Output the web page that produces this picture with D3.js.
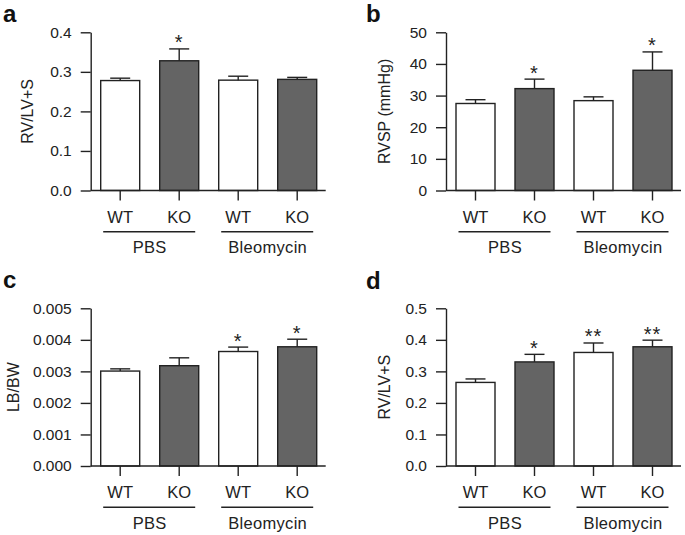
<!DOCTYPE html>
<html>
<head>
<meta charset="utf-8">
<script src="https://cdn.jsdelivr.net/npm/d3@7"></script>
<style>
  html, body { margin: 0; padding: 0; background: #fff; }
  svg { display: block; font-family: "Liberation Sans", Arial, Helvetica, sans-serif; }
</style>
</head>
<body>
<svg id="chart" width="685" height="535"></svg>
<script>
// ---------- data ----------
const categories = ["WT", "KO", "WT", "KO"];
const groups = ["PBS", "Bleomycin"];
const genotypeFill = ["white", "ko", "white", "ko"];

const panelLetters = ["a", "b", "c", "d"];
const yLabels = ["RV/LV+S", "RVSP (mmHg)", "LB/BW", "RV/LV+S"];

const valuesA = [0.278, 0.328, 0.279, 0.281];
const errorsA = [0.006, 0.030, 0.010, 0.005];
const starsA = ["", "*", "", ""];
const ticksA = [0, 0.1, 0.2, 0.3, 0.4];

const valuesB = [27.5, 32.2, 28.4, 38.0];
const errorsB = [1.2, 3.0, 1.2, 5.8];
const starsB = ["", "*", "", "*"];
const ticksB = [0, 10, 20, 30, 40, 50];

const valuesC = [0.00301, 0.00318, 0.00363, 0.00378];
const errorsC = [0.00007, 0.00025, 0.00014, 0.00024];
const starsC = ["", "", "*", "*"];
const ticksC = [0, 0.001, 0.002, 0.003, 0.004, 0.005];

const valuesD = [0.265, 0.330, 0.360, 0.378];
const errorsD = [0.011, 0.024, 0.030, 0.021];
const starsD = ["", "*", "**", "**"];
const ticksD = [0, 0.1, 0.2, 0.3, 0.4, 0.5];

const tickFormats = [".1f", "d", ".3f", ".1f"];

// ---------- layout ----------
const layout = [
  { ox: 90.7, top: 32.3, base: 190.5, letterX: 3,   letterY: 22, labelX: 27 },
  { ox: 446,  top: 32.3, base: 190.5, letterX: 366, letterY: 22, labelX: 384 },
  { ox: 90.7, top: 308.3, base: 466,  letterX: 3,   letterY: 288, labelX: 13 },
  { ox: 446,  top: 308.3, base: 466,  letterX: 366, letterY: 289, labelX: 384 }
];

const panelData = [
  { values: valuesA, errors: errorsA, stars: starsA, ticks: ticksA },
  { values: valuesB, errors: errorsB, stars: starsB, ticks: ticksB },
  { values: valuesC, errors: errorsC, stars: starsC, ticks: ticksC },
  { values: valuesD, errors: errorsD, stars: starsD, ticks: ticksD }
];

const INK = "#222222";
const KO_FILL = "#646464";
const svg = d3.select("#chart");

panelData.forEach((pd, pi) => {
  const L = layout[pi];
  const g = svg.append("g");
  const axisLen = 236;
  const idx = categories.map((c, i) => i);

  const x = d3.scaleBand()
    .domain(idx)
    .range([L.ox, L.ox + axisLen])
    .paddingInner(0.339)
    .paddingOuter(0.1695);

  const yMax = pd.ticks[pd.ticks.length - 1];
  const y = d3.scaleLinear().domain([0, yMax]).range([L.base, L.top]);

  // bars
  g.selectAll("rect.bar")
    .data(idx)
    .join("rect")
    .attr("class", "bar")
    .attr("x", i => x(i))
    .attr("width", x.bandwidth())
    .attr("y", i => y(pd.values[i]))
    .attr("height", i => y(0) - y(pd.values[i]))
    .attr("fill", i => genotypeFill[i] === "ko" ? KO_FILL : "#ffffff")
    .attr("stroke", INK)
    .attr("stroke-width", 1.4);

  // error bars (upper only)
  const capW = 20;
  idx.forEach(i => {
    const cx = x(i) + x.bandwidth() / 2;
    const yTop = y(pd.values[i] + pd.errors[i]);
    g.append("line")
      .attr("x1", cx).attr("x2", cx)
      .attr("y1", y(pd.values[i])).attr("y2", yTop)
      .attr("stroke", INK).attr("stroke-width", 1.4);
    g.append("line")
      .attr("x1", cx - capW / 2).attr("x2", cx + capW / 2)
      .attr("y1", yTop).attr("y2", yTop)
      .attr("stroke", INK).attr("stroke-width", 1.4);
    if (pd.stars[i]) {
      g.append("text")
        .attr("x", cx)
        .attr("y", yTop + 0.5)
        .attr("text-anchor", "middle")
        .attr("font-size", 20)
        .attr("letter-spacing", 1)
        .attr("fill", INK)
        .text(pd.stars[i]);
    }
  });

  // y axis
  const yAxis = d3.axisLeft(y)
    .tickValues(pd.ticks)
    .tickFormat(d3.format(tickFormats[pi]))
    .tickSize(10)
    .tickSizeOuter(0)
    .tickPadding(9);
  const ya = g.append("g")
    .attr("transform", `translate(${L.ox},0)`)
    .call(yAxis);
  ya.select(".domain").attr("stroke", INK).attr("stroke-width", 1.4);
  ya.selectAll(".tick line").attr("stroke", INK).attr("stroke-width", 1.4);
  ya.selectAll(".tick text")
    .attr("font-size", 15.5)
    .attr("fill", INK)
    .attr("font-family", "Liberation Sans, Arial, sans-serif");

  // x axis
  const xAxis = d3.axisBottom(x)
    .tickSize(10)
    .tickSizeOuter(0)
    .tickFormat(i => categories[i]);
  const xa = g.append("g")
    .attr("transform", `translate(0,${L.base})`)
    .call(xAxis);
  xa.select(".domain")
    .attr("d", `M${L.ox},0H${L.ox + axisLen - 1}`)
    .attr("stroke", INK).attr("stroke-width", 1.4);
  xa.selectAll(".tick line").attr("stroke", INK).attr("stroke-width", 1.4);
  xa.selectAll(".tick text")
    .attr("y", 32)
    .attr("dy", 0)
    .attr("font-size", 16.5)
    .attr("fill", INK)
    .attr("font-family", "Liberation Sans, Arial, sans-serif");

  // group lines and labels
  groups.forEach((gname, gi) => {
    const c1 = x(gi * 2) + x.bandwidth() / 2;
    const c2 = x(gi * 2 + 1) + x.bandwidth() / 2;
    g.append("line")
      .attr("x1", c1 - 17).attr("x2", c2 + 16)
      .attr("y1", L.base + 41.2).attr("y2", L.base + 41.2)
      .attr("stroke", INK).attr("stroke-width", 1.4);
    g.append("text")
      .attr("x", (c1 + c2) / 2)
      .attr("y", L.base + 62.5)
      .attr("text-anchor", "middle")
      .attr("font-size", 16.5)
      .attr("letter-spacing", 0.3)
      .attr("fill", INK)
      .text(gname);
  });

  // y label
  const midY = (L.top + L.base) / 2;
  g.append("text")
    .attr("transform", `translate(${L.labelX + 5.5},${midY}) rotate(-90)`)
    .attr("text-anchor", "middle")
    .attr("font-size", 16)
    .attr("fill", INK)
    .text(yLabels[pi]);

  // panel letter
  g.append("text")
    .attr("x", L.letterX)
    .attr("y", L.letterY)
    .attr("font-size", 24)
    .attr("font-weight", "bold")
    .attr("fill", "#111")
    .text(panelLetters[pi]);
});
</script>
</body>
</html>
